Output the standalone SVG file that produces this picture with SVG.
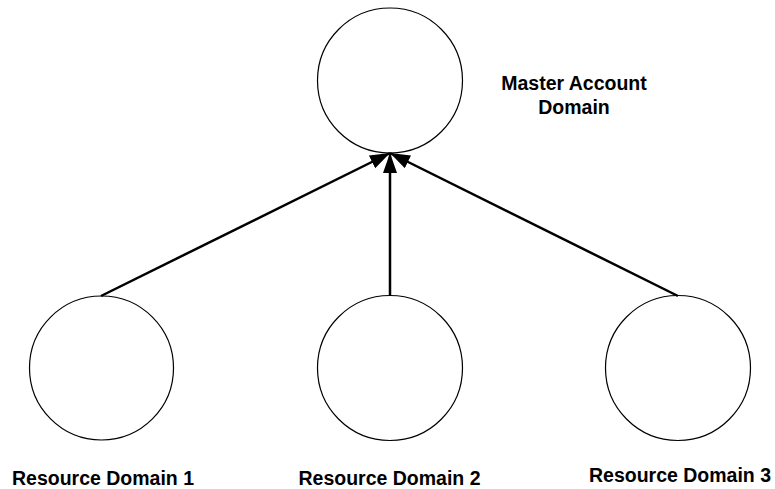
<svg xmlns="http://www.w3.org/2000/svg" width="775" height="489" viewBox="0 0 775 489">
<style>
.node circle { fill: #ffffff; stroke: #000000; stroke-width: 1.2; }
.lbl { font-family: "Liberation Sans", Arial, sans-serif; font-weight: bold; font-size: 19.5px; fill: #000000; text-anchor: middle; }
.conn line { stroke: #000000; stroke-width: 2.5; marker-end: url(#arrow); }
</style>
<defs>
<marker id="arrow" markerUnits="userSpaceOnUse" markerWidth="22" markerHeight="16" refX="20" refY="7" orient="auto">
<path d="M0,0 L20,7 L0,14 z" fill="#000000"/>
</marker>
</defs>
<rect width="775" height="489" fill="#ffffff"/>
<g id="master" class="node">
<circle cx="390" cy="80.5" r="72.5"/>
<text class="lbl" x="574" y="90">Master Account</text>
<text class="lbl" x="574" y="114">Domain</text>
</g>
<g id="resource1" class="node">
<circle cx="101.5" cy="368" r="72"/>
<text class="lbl" x="103" y="485">Resource Domain 1</text>
</g>
<g id="resource2" class="node">
<circle cx="390" cy="368" r="72.5"/>
<text class="lbl" x="389.5" y="485">Resource Domain 2</text>
</g>
<g id="resource3" class="node">
<circle cx="678" cy="368" r="72.5"/>
<text class="lbl" x="680" y="482">Resource Domain 3</text>
</g>
<g id="connectors" class="conn">
<line x1="101" y1="296" x2="390" y2="153"/>
<line x1="390" y1="296" x2="390" y2="153"/>
<line x1="678" y1="296" x2="390" y2="153"/>
</g>
</svg>
